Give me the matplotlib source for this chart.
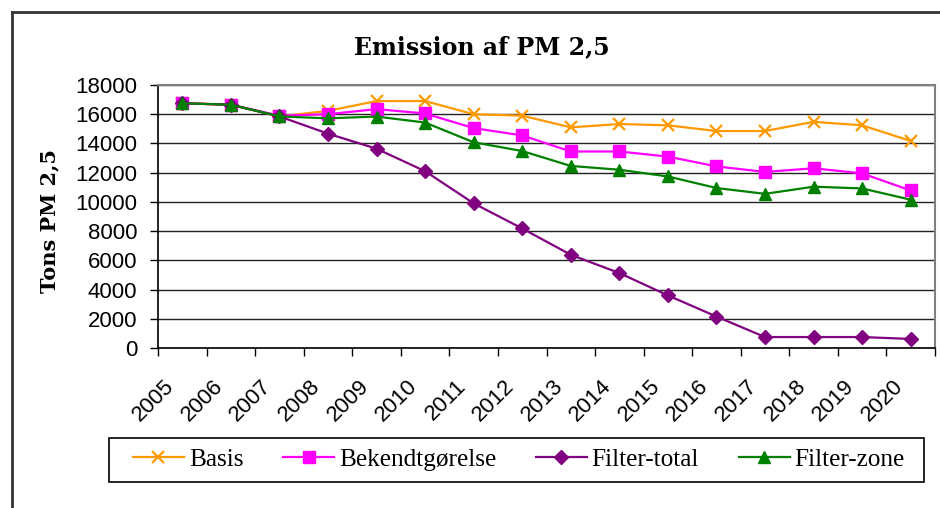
import matplotlib
matplotlib.use("Agg")
import matplotlib.pyplot as plt
import matplotlib.transforms as mtransforms
from matplotlib.lines import Line2D
from matplotlib.patches import Rectangle

years = [str(y) for y in range(2005, 2021)]
basis = [16750, 16650, 15850, 16230, 16900, 16900, 16000, 15900,
         15100, 15330, 15240, 14850, 14850, 15480, 15240, 14170]
bekendt = [16750, 16650, 15900, 16000, 16350, 16050, 15050, 14550,
           13450, 13450, 13100, 12430, 12050, 12300, 11950, 10780]
filter_total = [16750, 16650, 15850, 14670, 13640, 12100, 9900, 8180,
                6380, 5130, 3600, 2150, 750, 750, 750, 620]
filter_zone = [16750, 16650, 15850, 15720, 15840, 15430, 14080, 13480,
               12460, 12200, 11740, 10950, 10550, 11040, 10920, 10150]

W, H = 940, 508
fig = plt.figure(figsize=(W / 100, H / 100), dpi=100)

# outer chart frame (only left and top edges are visible)
fig.add_artist(Line2D([12 / W, 12 / W], [0, 1 - 12 / H], color="#333333", lw=2))
fig.add_artist(Line2D([12 / W, 1], [1 - 12 / H, 1 - 12 / H], color="#333333", lw=2))

ax = fig.add_axes([158 / W, 1 - 348 / H, (935 - 158) / W, (348 - 85) / H])

x = list(range(len(years)))
ax.plot(x, basis, color="#FF9900", lw=1.6, marker="x", ms=9, mew=1.6, label="Basis")
ax.plot(x, bekendt, color="#FF00FF", lw=1.6, marker="s", ms=8, label="Bekendtgørelse")
ax.plot(x, filter_total, color="#800080", lw=1.6, marker="D", ms=7, label="Filter-total")
ax.plot(x, filter_zone, color="#008000", lw=1.6, marker="^", ms=9, label="Filter-zone")

ax.set_xlim(-0.5, len(years) - 0.5)
ax.set_ylim(0, 18000)
ax.set_yticks(range(0, 18001, 2000))
ax.yaxis.grid(True, color="#222222", lw=1)
ax.set_axisbelow(True)

ax.set_xticks(x)
ax.set_xticklabels(years, rotation=45, ha="right", va="center", rotation_mode="anchor")
ax.set_xticks([i - 0.5 for i in range(len(years) + 1)], minor=True)
ax.tick_params(axis="x", which="major", length=0, pad=25, labelsize=16)
ax.tick_params(axis="x", which="minor", length=6, width=1, direction="out")
ax.tick_params(axis="y", length=6, width=1, direction="out", pad=9, labelsize=16)
shift = mtransforms.ScaledTranslation(-11 / 100, 0, fig.dpi_scale_trans)
for lab in ax.get_xticklabels():
    lab.set_transform(lab.get_transform() + shift)
    lab.set_fontfamily("Liberation Sans")
for lab in ax.get_yticklabels():
    lab.set_fontfamily("Liberation Sans")

for s in ["left", "bottom"]:
    ax.spines[s].set_color("black")
    ax.spines[s].set_linewidth(1.2)
for s in ["top", "right"]:
    ax.spines[s].set_color("#808080")
    ax.spines[s].set_linewidth(1.5)

fig.text(482 / W, 1 - 47 / H, "Emission af PM 2,5", ha="center", va="center",
         fontsize=17, fontweight="bold", family="DejaVu Serif")
fig.text(49 / W, 1 - 221 / H, "Tons PM 2,5", ha="center", va="center", rotation=90,
         fontsize=15, fontweight="bold", family="DejaVu Serif")

# legend box drawn separately so its padding can match the original
fig.add_artist(Rectangle((109 / W, 1 - 482 / H), (924 - 109) / W, 44 / H,
                         transform=fig.transFigure, fill=False,
                         edgecolor="black", lw=1.2))
leg = fig.legend(loc="center", bbox_to_anchor=(519 / W, 1 - 460 / H), ncol=4,
                 frameon=False, prop={"family": "Liberation Serif", "size": 18.2},
                 handlelength=2.0, handletextpad=0.2, columnspacing=1.58,
                 borderpad=0.2, borderaxespad=0)

fig.savefig("out.png", dpi=100)
